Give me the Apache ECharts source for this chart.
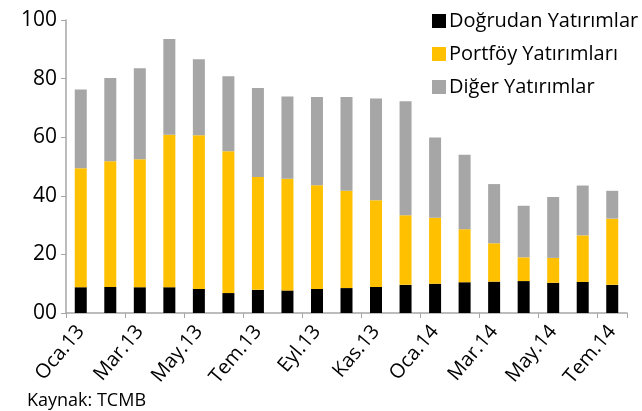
<!DOCTYPE html>
<html>
<head>
<meta charset="utf-8">
<script src="https://cdn.jsdelivr.net/npm/echarts@6/dist/echarts.min.js"></script>
<style>
  html, body { margin: 0; padding: 0; background: #fff; }
  #chart { width: 642px; height: 411px; }
</style>
</head>
<body>
<div id="chart"></div>
<script>
// aylar (Oca.13 - Tem.14)
const months = ['Oca.13', 'Şub.13', 'Mar.13', 'Nis.13', 'May.13', 'Haz.13', 'Tem.13', 'Ağu.13', 'Eyl.13', 'Eki.13',
  'Kas.13', 'Ara.13', 'Oca.14', 'Şub.14', 'Mar.14', 'Nis.14', 'May.14', 'Haz.14', 'Tem.14']
const dogrudan = [8.8, 8.9, 8.8, 8.8, 8.2, 6.8, 7.9, 7.7, 8.2, 8.5, 8.9, 9.6, 10.0, 10.5, 10.7, 10.9, 10.3, 10.6, 9.6]
const portfoy = [40.6, 42.9, 43.7, 52.0, 52.5, 48.4, 38.5, 38.1, 35.4, 33.2, 29.6, 23.8, 22.5, 18.1, 13.1, 8.1, 8.5, 15.9, 22.6]
const diger = [26.9, 28.4, 31.0, 32.7, 25.9, 25.6, 30.4, 28.1, 30.1, 32.0, 34.7, 38.9, 27.4, 25.4, 20.2, 17.6, 20.8, 17.0, 9.5]

const font = 'Open Sans'
const chart = echarts.init(document.getElementById('chart'))

chart.setOption({
  animation: false,
  textStyle: { fontFamily: font },
  grid: { left: 66, right: 15, top: 20, bottom: 98 },
  legend: {
    orient: 'vertical',
    left: 427,
    top: 6,
    itemWidth: 14,
    itemHeight: 14,
    itemGap: 13,
    icon: 'rect',
    textStyle: { fontSize: 20, color: '#000', fontFamily: font, padding: [0, 0, 0, -2] },
    data: ['Doğrudan Yatırımlar', 'Portföy Yatırımları', 'Diğer Yatırımlar']
  },
  graphic: [
    {
      type: 'text',
      left: 27,
      top: 392,
      style: { text: 'Kaynak: TCMB', fontSize: 18, fill: '#000', fontFamily: font }
    }
  ],
  xAxis: {
    type: 'category',
    data: months,
    axisLine: { lineStyle: { color: '#a6a6a6', width: 1.5 } },
    axisTick: { show: true, interval: 1, length: 5, lineStyle: { color: '#a6a6a6' } },
    axisLabel: {
      interval: 1,
      rotate: 50,
      margin: 15,
      fontSize: 20,
      color: '#000',
      fontFamily: font
    }
  },
  yAxis: {
    type: 'value',
    min: 0,
    max: 100,
    interval: 20,
    splitLine: { show: false },
    axisLine: { show: true, lineStyle: { color: '#a6a6a6', width: 1.5 } },
    axisTick: { show: true, length: 5, lineStyle: { color: '#a6a6a6' } },
    axisLabel: {
      fontSize: 21,
      color: '#000',
      fontFamily: font,
      margin: 9,
      formatter: v => (v === 0 ? '00' : v)
    }
  },
  series: [
    {
      name: 'Doğrudan Yatırımlar',
      type: 'bar',
      stack: 'toplam',
      barWidth: 12,
      itemStyle: { color: '#000000' },
      data: dogrudan
    },
    {
      name: 'Portföy Yatırımları',
      type: 'bar',
      stack: 'toplam',
      barWidth: 12,
      itemStyle: { color: '#ffc000' },
      data: portfoy
    },
    {
      name: 'Diğer Yatırımlar',
      type: 'bar',
      stack: 'toplam',
      barWidth: 12,
      itemStyle: { color: '#a6a6a6' },
      data: diger
    }
  ]
})
</script>
</body>
</html>
